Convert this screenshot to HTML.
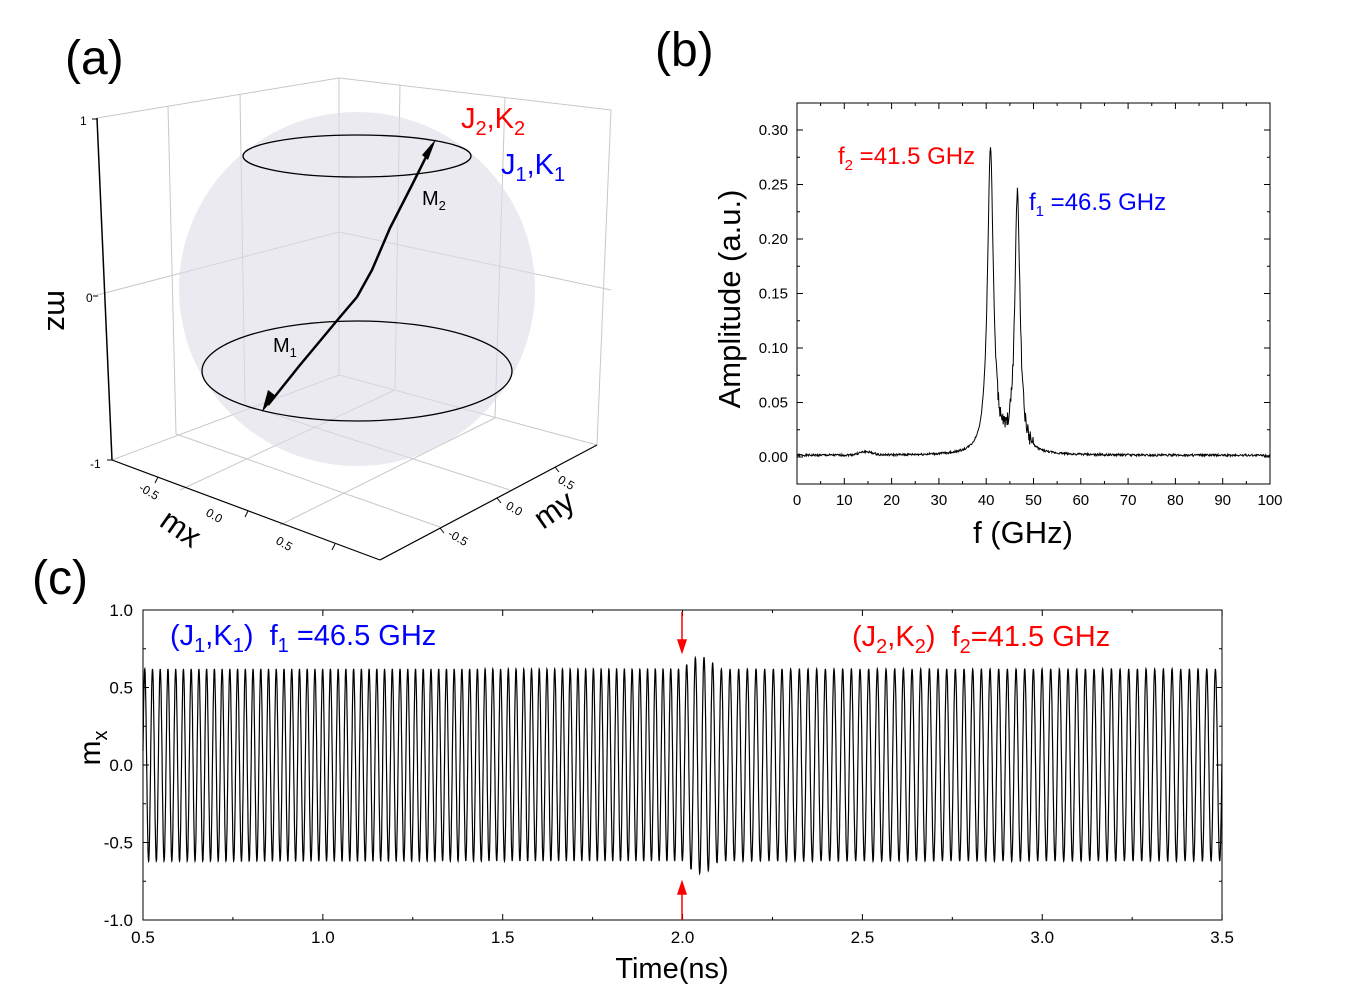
<!DOCTYPE html>
<html><head><meta charset="utf-8"><style>
html,body{margin:0;padding:0;background:#fff}
svg{display:block}
text{font-family:"Liberation Sans",Arial,sans-serif;white-space:pre}
</style></head><body>
<svg id="s" width="1370" height="995" viewBox="0 0 1370 995" xmlns="http://www.w3.org/2000/svg" xml:space="preserve">
<!-- (a) -->
<text x="65" y="74" font-size="48">(a)</text>
<g stroke="#c8c8c8" stroke-width="1" fill="none">
<line x1="97" y1="118" x2="339" y2="78"/><line x1="339" y1="78" x2="611" y2="110"/>
<line x1="339" y1="78" x2="339" y2="375"/>
<line x1="168" y1="106" x2="176" y2="434"/><line x1="240" y1="94" x2="245" y2="405"/>
<line x1="400" y1="85" x2="395" y2="390"/><line x1="505" y1="97" x2="495" y2="418"/>
<line x1="97" y1="295" x2="339" y2="232"/><line x1="339" y1="232" x2="611" y2="290"/>
<line x1="112" y1="460" x2="339" y2="375"/><line x1="339" y1="375" x2="597" y2="445"/>
<line x1="176" y1="434" x2="440" y2="527"/><line x1="245" y1="405" x2="510" y2="490"/>
<line x1="395" y1="390" x2="180" y2="490"/><line x1="495" y1="418" x2="280" y2="525"/>
<line x1="611" y1="110" x2="597" y2="445"/>
</g>
<ellipse cx="357" cy="289" rx="178" ry="177" fill="#dcdce6" fill-opacity="0.6"/>
<g stroke="#000" fill="none">
<line x1="97" y1="118" x2="112" y2="460" stroke-width="1.5"/>
<line x1="112" y1="460" x2="380" y2="560" stroke-width="1.2"/>
<line x1="380" y1="560" x2="597" y2="445" stroke-width="1.2"/>
<ellipse cx="357" cy="156" rx="114" ry="21" stroke-width="1.3"/>
<ellipse cx="357" cy="371" rx="155" ry="50" stroke-width="1.3"/>
<polyline points="357,297 372,270 390,228 412,185 432,145" stroke-width="2.5"/>
<polyline points="357,297 340,317 300,365 268,405" stroke-width="2.5"/>
</g>
<polygon points="436,139 428,160 422,155" fill="#000"/>
<polygon points="262,412 268,390 276,396" fill="#000"/>
<g stroke="#000" stroke-width="1">
<line x1="92" y1="119" x2="97" y2="119"/><line x1="93" y1="296" x2="98" y2="296"/><line x1="107" y1="460" x2="112" y2="460"/>
<line x1="158" y1="477" x2="155" y2="483"/><line x1="248" y1="511" x2="245" y2="517"/><line x1="335" y1="544" x2="332" y2="550"/>
<line x1="555" y1="467" x2="559" y2="472"/><line x1="497" y1="498" x2="501" y2="503"/><line x1="440" y1="528" x2="444" y2="533"/>
</g>
<g font-size="12" fill="#000">
<text x="80" y="125">1</text><text x="86" y="302">0</text><text x="90" y="468">-1</text>
<text x="138" y="490" transform="rotate(30 138 490)">-0.5</text>
<text x="205" y="515" transform="rotate(30 205 515)">0.0</text>
<text x="275" y="543" transform="rotate(30 275 543)">0.5</text>
<text x="557" y="482" transform="rotate(30 557 482)">0.5</text>
<text x="505" y="508" transform="rotate(30 505 508)">0.0</text>
<text x="447" y="536" transform="rotate(30 447 536)">-0.5</text>
</g>
<text x="0" y="0" font-size="31" transform="translate(48,290) rotate(90)">mz</text>
<text x="0" y="0" font-size="31" transform="translate(158,525) rotate(35)">mx</text>
<text x="0" y="0" font-size="31" transform="translate(543,530) rotate(-35)">my</text>
<text x="422" y="205" font-size="20">M<tspan font-size="13" dy="5">2</tspan></text>
<text x="273" y="352" font-size="20">M<tspan font-size="13" dy="5">1</tspan></text>
<text x="461" y="128" font-size="29" fill="#f00">J<tspan font-size="20" dy="7">2</tspan><tspan dy="-7">,K</tspan><tspan font-size="20" dy="7">2</tspan></text>
<text x="501" y="174" font-size="29" fill="#00f">J<tspan font-size="20" dy="7">1</tspan><tspan dy="-7">,K</tspan><tspan font-size="20" dy="7">1</tspan></text>

<!-- (b) -->
<text x="655" y="66" font-size="48">(b)</text>
<rect x="797" y="103" width="473" height="381" fill="none" stroke="#000" stroke-width="1"/>
<g id="bt" stroke="#000" stroke-width="1"></g>
<g font-size="15" text-anchor="end" id="bly"></g>
<g font-size="15" text-anchor="middle" id="blx"></g>
<path id="spec" fill="none" stroke="#000" stroke-width="1"/>
<text x="0" y="0" font-size="31" text-anchor="middle" transform="translate(740,299) rotate(-90)">Amplitude (a.u.)</text>
<text x="1023" y="543" font-size="31" text-anchor="middle">f (GHz)</text>
<text x="838" y="164" font-size="24" fill="#f00">f<tspan font-size="15" dy="6">2</tspan><tspan dy="-6"> =41.5 GHz</tspan></text>
<text x="1029" y="210" font-size="24" fill="#00f">f<tspan font-size="15" dy="6">1</tspan><tspan dy="-6"> =46.5 GHz</tspan></text>

<!-- (c) -->
<text x="32" y="594" font-size="48">(c)</text>
<rect x="143" y="610" width="1079" height="310" fill="none" stroke="#000" stroke-width="1"/>
<g id="ct" stroke="#000" stroke-width="1"></g>
<g font-size="17" text-anchor="end" id="cly"></g>
<g font-size="17" text-anchor="middle" id="clx"></g>
<path id="osc" fill="none" stroke="#000" stroke-width="1.2"/>
<text x="0" y="0" font-size="30" text-anchor="middle" transform="translate(100,748) rotate(-90)">m<tspan font-size="20" dy="7">x</tspan></text>
<text x="672" y="978" font-size="29" text-anchor="middle">Time(ns)</text>
<text x="170" y="645" font-size="29" fill="#00f">(J<tspan font-size="20" dy="7">1</tspan><tspan dy="-7">,K</tspan><tspan font-size="20" dy="7">1</tspan><tspan dy="-7">)  f</tspan><tspan font-size="20" dy="7">1</tspan><tspan dy="-7"> =46.5 GHz</tspan></text>
<text x="852" y="646" font-size="29" fill="#f00">(J<tspan font-size="20" dy="7">2</tspan><tspan dy="-7">,K</tspan><tspan font-size="20" dy="7">2</tspan><tspan dy="-7">)  f</tspan><tspan font-size="20" dy="7">2</tspan><tspan dy="-7">=41.5 GHz</tspan></text>
<g stroke="#f00" stroke-width="1.5" fill="#f00">
<line x1="682" y1="612" x2="682" y2="642"/><polygon points="678,640 686,640 682,652"/>
<line x1="682" y1="920" x2="682" y2="892"/><polygon points="678,894 686,894 682,882"/>
</g>
</svg>
<script>
var NS="http://www.w3.org/2000/svg";
function el(p,t,a,txt){var e=document.createElementNS(NS,t);for(var k in a)e.setAttribute(k,a[k]);if(txt!==undefined)e.textContent=txt;document.getElementById(p).appendChild(e);}
for(var f=0;f<=100;f+=5){var x=797+f*4.73;var L=f%10==0?6:3;
el("bt","line",{x1:x,y1:484,x2:x,y2:484-L});el("bt","line",{x1:x,y1:103,x2:x,y2:103+L});
if(f%10==0)el("blx","text",{x:x,y:505},""+f);}
for(var v=0;v<=0.30001;v+=0.025){var y=457-v*1090;var m=Math.round(v*1000)%50==0;var L=m?6:3;
el("bt","line",{x1:797,y1:y,x2:797+L,y2:y});el("bt","line",{x1:1270,y1:y,x2:1270-L,y2:y});
if(m)el("bly","text",{x:788,y:y+5},v.toFixed(2));}
var d="",seed=1;function rnd(){seed=(seed*9301+49297)%233280;return seed/233280;}
for(var f=0;f<=100;f+=0.1){
var a=0.0015+0.28*1/(1+Math.pow((f-40.9)/0.75,2))+0.24/(1+Math.pow((f-46.6)/0.65,2))+0.003*Math.exp(-Math.pow((f-14.5)/2,2));
if(f>42&&f<50)a+=(rnd()-0.5)*0.014;else a+=(rnd()-0.5)*0.002;
if(a<0)a=0;var x=797+f*4.73,y=457-a*1090;d+=(d?"L":"M")+x.toFixed(1)+","+y.toFixed(1);}
document.getElementById("spec").setAttribute("d",d);
for(var t=0.5;t<=3.5001;t+=0.25){var x=143+(t-0.5)*359.7;var m=Math.abs(t*2-Math.round(t*2))<1e-6;var L=m?6:3;
el("ct","line",{x1:x,y1:920,x2:x,y2:920-L});el("ct","line",{x1:x,y1:610,x2:x,y2:610+L});
if(m)el("clx","text",{x:x,y:943},t.toFixed(1));}
for(var v=-1;v<=1.0001;v+=0.25){var y=765-v*155;var m=Math.abs(v*2-Math.round(v*2))<1e-6;var L=m?6:3;
el("ct","line",{x1:143,y1:y,x2:143+L,y2:y});el("ct","line",{x1:1222,y1:y,x2:1222-L,y2:y});
if(m)el("cly","text",{x:133,y:y+6},v.toFixed(1));}
var d2="",ph=0;
for(var t=0.5;t<=3.5;t+=0.0005){var f=t<2?46.5:41.5;ph+=2*Math.PI*f*0.0005;
var A=0.62;if(t>2&&t<2.1)A=0.62+0.08*Math.sin((t-2)/0.1*Math.PI);
var y=765-A*Math.sin(ph)*155;var x=143+(t-0.5)*359.7;d2+=(d2?"L":"M")+x.toFixed(1)+","+y.toFixed(1);}
document.getElementById("osc").setAttribute("d",d2);
</script>
</body></html>
